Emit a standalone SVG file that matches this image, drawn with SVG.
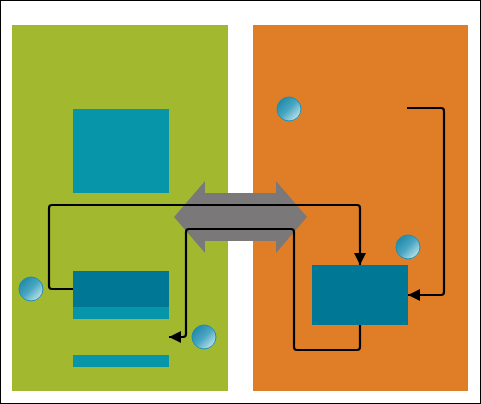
<svg xmlns="http://www.w3.org/2000/svg" width="481" height="404" viewBox="0 0 481 404">
  <defs>
    <linearGradient id="ball" x1="0.1" y1="0.1" x2="0.9" y2="0.9">
      <stop offset="0" stop-color="#1b86a6"/>
      <stop offset="0.5" stop-color="#4aa6c2"/>
      <stop offset="1" stop-color="#c4e6ef"/>
    </linearGradient>
    <marker id="ah" markerUnits="userSpaceOnUse" markerWidth="13" markerHeight="12" refX="12" refY="6" orient="auto">
      <path d="M0,0 L12,6 L0,12 z" fill="#000"/>
    </marker>
    <style>
      .ball { fill: url(#ball); stroke: #1f8fae; stroke-width: 1; }
      .conn { fill: none; stroke: #000; stroke-width: 2.2; marker-end: url(#ah); }
      .teal { fill: #0795aa; }
      .dteal { fill: #007794; }
    </style>
  </defs>
  <rect x="0.5" y="0.5" width="480" height="403" fill="#fff" stroke="#000" stroke-width="1"/>
  <g id="panel-left"><rect x="12" y="25" width="216" height="366" fill="#a2b82f"/></g>
  <g id="panel-right"><rect x="253" y="25" width="215" height="366" fill="#e07e27"/></g>
  <g id="box-top-left"><rect class="teal" x="73" y="109" width="96" height="84"/></g>
  <g id="box-mid-left"><rect class="teal" x="73" y="271" width="96" height="48"/><rect class="dteal" x="73" y="271" width="96" height="36"/></g>
  <g id="bar-bottom-left"><rect class="teal" x="73" y="355" width="96" height="12"/></g>
  <g id="box-right"><rect class="dteal" x="312" y="265" width="96" height="60"/></g>
  <g id="double-arrow"><polygon points="174,217 205,181 205,193 276,193 276,181 307,217 276,253 276,241 205,241 205,253" fill="#7a7878"/></g>
  <g id="ball-1"><circle class="ball" cx="31" cy="289" r="12"/></g>
  <g id="ball-2"><circle class="ball" cx="204" cy="337" r="12"/></g>
  <g id="ball-3"><circle class="ball" cx="289" cy="109" r="12"/></g>
  <g id="ball-4"><circle class="ball" cx="408" cy="247" r="12"/></g>
  <g id="connectors">
    <path class="conn" d="M73,289 H52 Q49,289 49,286 V208 Q49,205 52,205 H357 Q360,205 360,208 V265"/>
    <path class="conn" d="M360,325 V347 Q360,350 357,350 H297 Q294,350 294,347 V232 Q294,229 291,229 H189 Q186,229 186,232 V334 Q186,337 183,337 H169"/>
    <path class="conn" d="M407,108 H441 Q444,108 444,111 V292 Q444,295 441,295 H408"/>
  </g>
</svg>
